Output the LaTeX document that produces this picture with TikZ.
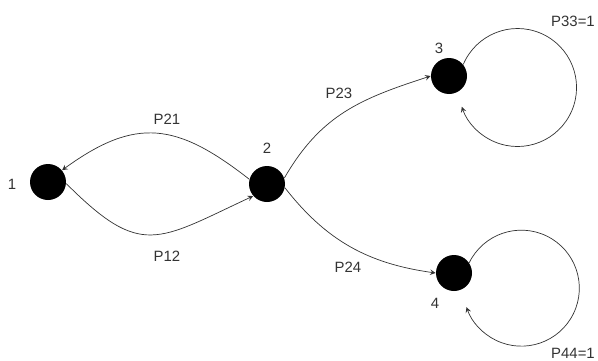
\documentclass[tikz,border=0pt]{standalone}
\usepackage{fontspec}
\setmainfont{Liberation Sans}
\usepackage{tikz}
\usetikzlibrary{arrows}
\usetikzlibrary{positioning}
\tikzstyle{state} = [circle, minimum size = 0.72cm, inner sep = 0pt, fill=black]
\tikzstyle{arrow} = [thin, draw=black!80, ->, >=stealth]
\tikzstyle{label} = [text=black!80, font=\fontsize{8.5}{10}\selectfont]

\begin{document}
\begin{tikzpicture}[x=0.02cm, y=0.02cm]
                        \useasboundingbox (0,0) rectangle (598,360);
                        % states
                        \node (1) [state] at (48,178) {};
                        \node (2) [state] at (267,176) {};
                        \node (3) [state] at (449,284) {};
                        \node (4) [state] at (454,87) {};
                        % state numbers
                        \node (n1) [label] at (12,176) {1};
                        \node (n2) [label] at (267,212) {2};
                        \node (n3) [label] at (439,312) {3};
                        \node (n4) [label] at (435,57) {4};
                        % transitions
                        \draw (2.165) [arrow] to[out=142, in=36, looseness=1.25] (1.40);
                        \draw (1.-5) [arrow] to[out=-45, in=205, looseness=1.45] (2.221);
                        \draw (2.19) [arrow] to[out=60, in=198, looseness=1.05] (3.180);
                        \draw (2.-12) [arrow] to[out=-52, in=172] (4.180);
                        \draw (3.39) [arrow] arc[start angle=157, end angle=-161, radius=1.18cm];
                        \draw (4.34) [arrow] arc[start angle=154, end angle=-161, radius=1.16cm];
                        % probabilities
                        \node (p21) [label] at (167,241) {P21};
                        \node (p12) [label] at (167,104) {P12};
                        \node (p23) [label] at (339,267) {P23};
                        \node (p24) [label] at (348,93) {P24};
                        \node (p33) [label] at (573,339) {P33=1};
                        \node (p44) [label] at (573,7) {P44=1};
                    \end{tikzpicture}
\end{document}
